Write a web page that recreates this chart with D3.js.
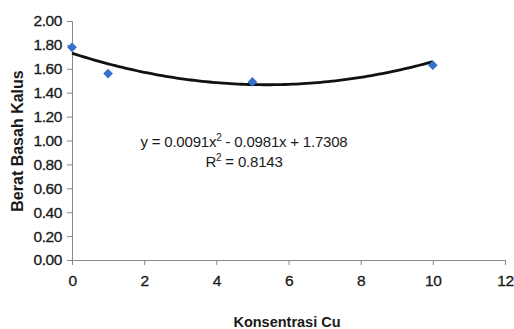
<!DOCTYPE html>
<html><head><meta charset="utf-8">
<script src="https://cdn.jsdelivr.net/npm/d3@7"></script>
<style>body{margin:0;background:#fff}svg{display:block}</style>
</head><body>
<svg id="c" width="514" height="329"></svg>
<script>
const konsentrasi = [0, 1, 5, 10];
const beratBasah = [1.78, 1.56, 1.49, 1.63];
const trendCoef = [0.0091, -0.0981, 1.7308];
const yTicks = [0, 0.2, 0.4, 0.6, 0.8, 1.0, 1.2, 1.4, 1.6, 1.8, 2.0];
const xTicks = [0, 2, 4, 6, 8, 10, 12];
const eqText = "y = 0.0091x";
const eqRest = " - 0.0981x + 1.7308";
const r2Text = "0.8143";

const svg = d3.select("#c");
const font = "'Liberation Sans', Arial, sans-serif";
const x = d3.scaleLinear().domain([0, 12]).range([72, 505]);
const y = d3.scaleLinear().domain([0, 2]).range([260, 21]);

const gx = svg.append("g").attr("transform", "translate(0,260)")
  .call(d3.axisBottom(x).tickValues(xTicks).tickSize(5).tickPadding(10).tickFormat(d3.format("d")));
const gy = svg.append("g").attr("transform", "translate(72,0)")
  .call(d3.axisLeft(y).tickValues(yTicks).tickSize(5).tickPadding(5).tickFormat(d3.format(".2f")));
[gx, gy].forEach(g => {
  g.select(".domain").attr("stroke", "#888");
  g.selectAll(".tick line").attr("stroke", "#888");
  g.selectAll("text").attr("font-family", font).attr("font-size", 15.5).attr("fill", "#1a1a1a")
    .attr("stroke", "#1a1a1a").attr("stroke-width", 0.3).attr("letter-spacing", -0.4);
});

// trendline
const xs = d3.range(0, 10.0001, 0.1);
const f = v => trendCoef[0]*v*v + trendCoef[1]*v + trendCoef[2];
svg.append("path")
  .attr("d", d3.line().x(d => x(d)).y(d => y(f(d))).curve(d3.curveMonotoneX)(xs))
  .attr("fill", "none").attr("stroke", "#111").attr("stroke-width", 2.8);

// markers
svg.selectAll(".pt").data(konsentrasi).enter().append("path")
  .attr("d", d3.symbol(d3.symbolDiamond2, 60))
  .attr("transform", (d, i) => `translate(${x(d)},${y(beratBasah[i])})`)
  .attr("fill", "#3470cc");

// equation
const eq = svg.append("text").attr("x", 244).attr("y", 147).attr("text-anchor", "middle")
  .attr("font-family", font).attr("font-size", 15).attr("fill", "#1a1a1a").attr("letter-spacing", -0.2);
eq.append("tspan").text(eqText);
eq.append("tspan").text("2").attr("font-size", 10).attr("dy", -6);
eq.append("tspan").text(eqRest).attr("dy", 6);
const r2 = svg.append("text").attr("x", 244).attr("y", 167).attr("text-anchor", "middle")
  .attr("font-family", font).attr("font-size", 15).attr("fill", "#1a1a1a").attr("letter-spacing", -0.2);
r2.append("tspan").text("R");
r2.append("tspan").text("2").attr("font-size", 10).attr("dy", -6);
r2.append("tspan").text(" = " + r2Text).attr("dy", 6);

// axis titles
svg.append("text").attr("x", 287).attr("y", 327).attr("text-anchor", "middle")
  .attr("font-family", font).attr("font-size", 14.5).attr("font-weight", "bold").attr("fill", "#1a1a1a")
  .text("Konsentrasi Cu");
svg.append("text").attr("transform", "translate(23,141) rotate(-90)").attr("text-anchor", "middle")
  .attr("font-family", font).attr("font-size", 16).attr("font-weight", "bold").attr("fill", "#1a1a1a")
  .text("Berat Basah Kalus");
</script>
</body></html>
